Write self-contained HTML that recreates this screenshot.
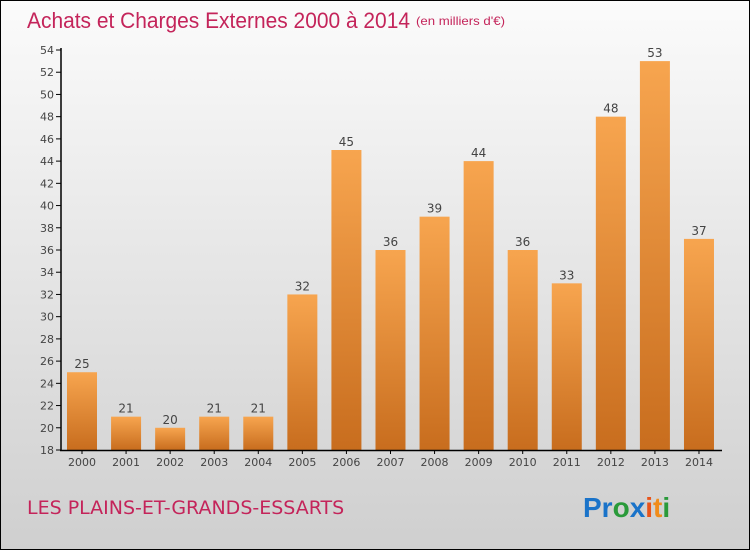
<!DOCTYPE html>
<html><head><meta charset="utf-8"><style>
body{margin:0;width:750px;height:550px;overflow:hidden;font-family:"DejaVu Sans","Liberation Sans",sans-serif}
</style></head><body>
<svg width="750" height="550">
<defs>
<linearGradient id="bg" x1="0" y1="0" x2="0" y2="1"><stop offset="0" stop-color="#fbfbfb"/><stop offset="1" stop-color="#cfcfcf"/></linearGradient>
<linearGradient id="bar" x1="0" y1="0" x2="0" y2="1"><stop offset="0" stop-color="#f7a54f"/><stop offset="1" stop-color="#c86d1e"/></linearGradient>
</defs>
<rect x="0.5" y="0.5" width="749" height="549" fill="url(#bg)" stroke="#000"/>
<text x="27" y="28" font-size="22" fill="#c4245a" font-family="Liberation Sans,sans-serif" textLength="383" lengthAdjust="spacingAndGlyphs">Achats et Charges Externes 2000 à 2014</text>
<text x="416" y="25" font-size="12" fill="#c4245a" font-family="Liberation Sans,sans-serif" textLength="89" lengthAdjust="spacingAndGlyphs">(en milliers d'€)</text>
<g id="plot"></g>
<text x="27" y="514" font-size="19" fill="#c4245a">LES PLAINS-ET-GRANDS-ESSARTS</text>
<text x="583" y="517" font-size="28" font-family="Liberation Sans,sans-serif" font-weight="bold"><tspan fill="#1a73c9">Pr</tspan><tspan fill="#2a9a3a">o</tspan><tspan fill="#1a73c9">x</tspan><tspan fill="#e8541a">i</tspan><tspan fill="#f08c1a">t</tspan><tspan fill="#2a9a3a">i</tspan></text>
</svg>
<script>
const years=["2000","2001","2002","2003","2004","2005","2006","2007","2008","2009","2010","2011","2012","2013","2014"];
const values=[25,21,20,21,21,32,45,36,39,44,36,33,48,53,37];
const ticks=[18,20,22,24,26,28,30,32,34,36,38,40,42,44,46,48,50,52,54];
const NS="http://www.w3.org/2000/svg",g=document.getElementById('plot');
const yS=v=>450-(v-18)*400/36, xS=i=>82+i*44.07;
function mk(t,a,txt){const e=document.createElementNS(NS,t);for(const k in a)e.setAttribute(k,a[k]);if(txt!=null)e.textContent=txt;g.appendChild(e);return e;}
ticks.forEach(t=>{
 const l=mk('line',{x1:56,x2:61,y1:yS(t),y2:yS(t),stroke:'#000'});
 
 
 const tx=mk('text',{x:54,y:yS(t)+4,'text-anchor':'end','font-size':11,fill:'#444'},t);
 
 
});
values.forEach((v,i)=>{
 const r=mk('rect',{x:xS(i)-15,y:yS(v),width:30,height:450-yS(v),fill:'url(#bar)'});
 
 
 const vt=mk('text',{x:xS(i),y:yS(v)-4,'text-anchor':'middle','font-size':12,fill:'#444'},v);
 
 
 const xt=mk('text',{x:xS(i),y:466,'text-anchor':'middle','font-size':11,fill:'#444'},years[i]);
 
 
 const xk=mk('line',{x1:xS(i),x2:xS(i),y1:450,y2:454,stroke:'#000'});
 
 
});
const ya=mk('line',{x1:61,x2:61,y1:48,y2:451,stroke:'#000','stroke-width':1.5});


const xa=mk('line',{x1:60,x2:722,y1:450.5,y2:450.5,stroke:'#000','stroke-width':1.5});


</script>
</body></html>
